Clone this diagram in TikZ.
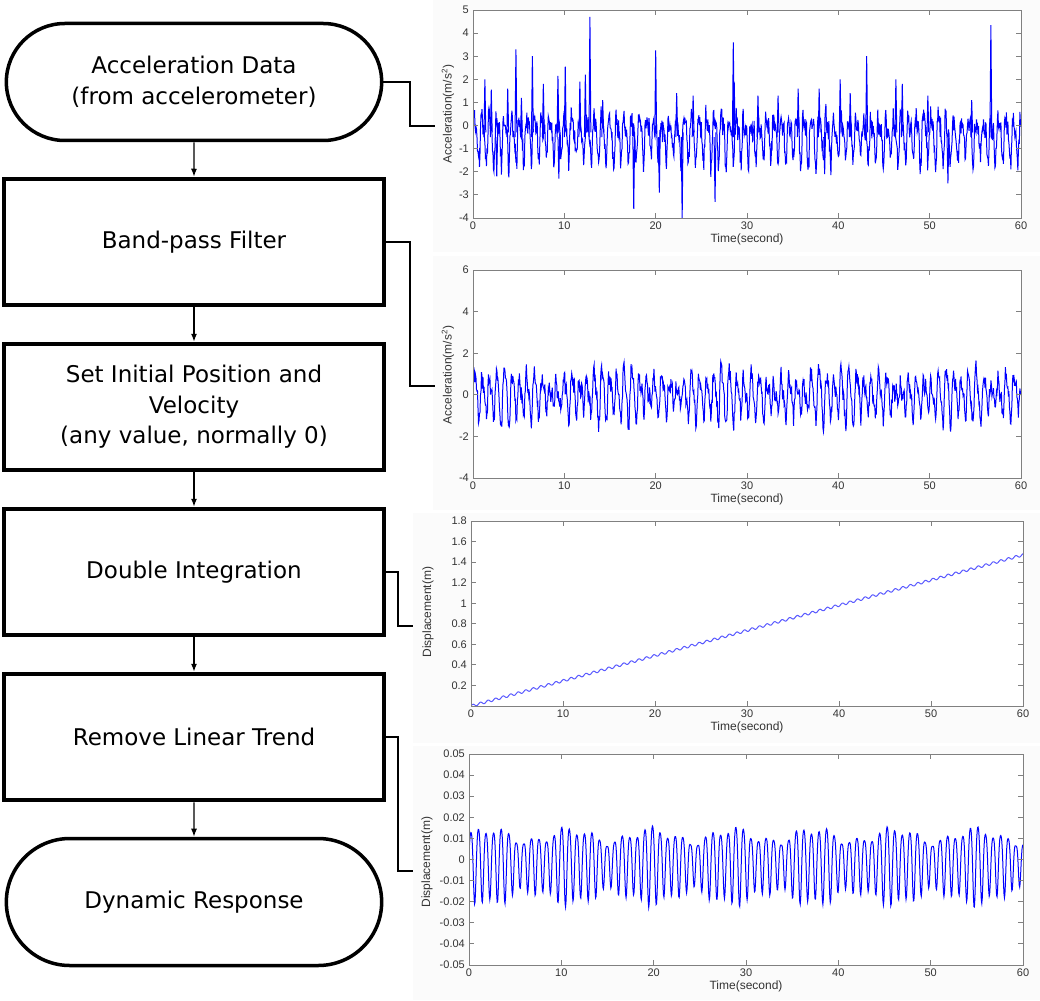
\documentclass[tikz,border=0pt]{standalone}
\usepackage{fontspec}
\setmainfont{DejaVu Sans}
\newfontfamily\plotfont{Liberation Sans}
\usepackage{tikz}
\usetikzlibrary{arrows.meta,positioning,shapes.misc}

\begin{document}
\begin{tikzpicture}[
    x=1pt, y=-1pt,
    node distance=165pt,
    >={Latex[length=8pt,width=6pt]},
    terminal/.style={
		rounded rectangle,
		draw=black,
		line width=3.5pt,
		align=center,
		minimum width=382pt,
		minimum height=117pt,
		font=\fontsize{23}{31}\selectfont,
		fill=white
	},
	process/.style={
		rectangle,
		draw=black,
		line width=4.5pt,
		align=center,
		minimum width=380pt,
		minimum height=126pt,
		font=\fontsize{23}{30.5}\selectfont,
		fill=white
	},
	flow/.style={line width=1.3pt},
	link/.style={line width=1.3pt},
	figbg/.style={fill=black!1.5},
	frame/.style={draw=black!50, line width=1pt},
	sigline/.style={draw=blue, line width=1pt},
	ticklab/.style={
	  font=\plotfont\fontsize{11}{13}\selectfont,
	  text=black!80,
	  inner sep=1pt
    },
	axlab/.style={
	  font=\plotfont\fontsize{12}{14}\selectfont,
	  text=black!80,
	  inner sep=1pt
    }
  ]

\useasboundingbox (0,0) rectangle (1040,1000);
\fill [white] (0,0) rectangle (1040,1000);
\pgfmathsetseed{4711}

% // The flow chart
 \node [terminal] (accdata) at (194,82) {Acceleration Data\\(from accelerometer)};
 \node [process, below of=accdata, yshift=5pt] (bandpass) {Band-pass Filter};
 \node [process, below of=bandpass] (initset) {Set Initial Position and\\Velocity\\(any value, normally 0)};
 \node [process, below of=initset] (dblint) {Double Integration};
 \node [process, below of=dblint] (detrend) {Remove Linear Trend};
 \node [terminal, below of=detrend, minimum height=127pt] (response) {Dynamic Response};

 \draw [flow, ->] (accdata) -- (bandpass);
 \draw [flow, ->] (bandpass) -- (initset);
 \draw [flow, ->] (initset) -- (dblint);
 \draw [flow, ->] (dblint) -- (detrend);
 \draw [flow, ->] (detrend) -- (response);

% // figure backgrounds
\fill [figbg] (433,0) rectangle (1040,252);
\fill [figbg] (433,256) rectangle (1040,510);
\fill [figbg] (413,513) rectangle (1040,743);
\fill [figbg] (413,746) rectangle (1040,1000);

% // raw acceleration
\begin{scope}[shift={(473pt,-125.56pt)}, x=9.1333pt, y=23.111pt]
  \fill [white] (0,-4) rectangle (60,5);
  \begin{scope}
    \clip (0,-4) rectangle (60,5);
    \draw [sigline] plot [domain=0:60, samples=1100]
      (\x, {-0.45+0.8*(1+0.2*sin(31*\x))*sin(360*mod(1.22*\x,1))+0.4*sin(720*mod(1.22*\x,1)+50)+0.5*rand});
    \foreach \t/\v in {1.3/2.0, 2.0/1.55, 2.6/-2.2, 3.8/1.6, 4.7/3.3, 6.5/3.0, 7.7/1.8,
                       9.3/2.15, 9.4/-2.3, 10.1/2.55, 11.7/1.9, 12.3/2.2, 12.8/4.7,
                       17.6/-3.6, 20.0/3.25, 20.4/-2.9, 22.3/1.4, 22.9/-4, 26.5/-3.3,
                       28.5/3.6, 28.6/1.9, 35.6/1.6, 37.9/1.6, 40.2/2.0, 43.1/3.0, 46.3/2.0,
                       47.0/1.8, 52.0/-2.5, 56.7/4.35, 5.3/1.2, 14.2/1.1, 24.1/1.3,
                       31.2/1.3, 33.4/1.3, 38.5/-2.1, 41.3/1.4, 49.8/1.3, 54.6/1.1}
      \draw [sigline] (\t-0.1,-0.5) -- (\t,\v) -- (\t+0.1,-0.3);
  \end{scope}
  \draw [frame] (0,-4) rectangle (60,5);
  \foreach \t in {0,10,...,60} {
    \draw [frame] (\t,-4) -- ++(0,5pt) (\t,5) -- ++(0,-5pt);
    \node [ticklab, anchor=north, yshift=-3pt] (ta\t) at (\t,-4) {\t};
  }
  \foreach \v [count=\i] in {-4,...,5} {
    \draw [frame] (0,\v) -- ++(5pt,0) (60,\v) -- ++(-5pt,0);
    \node [ticklab, anchor=east, xshift=-3pt] (va\i) at (0,\v) {\v};
  }
  \node [axlab, yshift=-21pt] (timea) at (30,-4) {Time(second)};
\end{scope}

% // filtered acceleration
\begin{scope}[shift={(473pt,-394.8pt)}, x=9.1333pt, y=20.8pt]
  \fill [white] (0,-4) rectangle (60,6);
  \begin{scope}
    \clip (0,-4) rectangle (60,6);
    \draw [sigline] plot [domain=0:60, samples=1100]
      (\x, {0.85*(1+0.3*sin(29*\x))*sin(360*mod(1.22*\x,1))+0.35*sin(720*mod(1.22*\x,1)+30)+0.3*sin(360*mod(0.93*\x,1))+0.4*rand});
  \end{scope}
  \draw [frame] (0,-4) rectangle (60,6);
  \foreach \t in {0,10,...,60} {
    \draw [frame] (\t,-4) -- ++(0,5pt) (\t,6) -- ++(0,-5pt);
    \node [ticklab, anchor=north, yshift=-3pt] (tb\t) at (\t,-4) {\t};
  }
  \foreach \v [count=\i] in {-4,-2,...,6} {
    \draw [frame] (0,\v) -- ++(5pt,0) (60,\v) -- ++(-5pt,0);
    \node [ticklab, anchor=east, xshift=-3pt] (vb\i) at (0,\v) {\v};
  }
  \node [axlab, yshift=-21pt] (timeb) at (30,-4) {Time(second)};
\end{scope}

% // displacement after integration
\begin{scope}[shift={(471pt,-706pt)}, x=9.2pt, y=102.78pt]
  \fill [white] (0,0) rectangle (60,1.8);
  \begin{scope}
    \clip (0,0) rectangle (60,1.8);
    \draw [sigline, draw=blue!65] plot [domain=0:60, samples=1000]
      (\x, {0.0245*\x+0.012*sin(360*mod(1.22*\x,1))});
  \end{scope}
  \draw [frame] (0,0) rectangle (60,1.8);
  \foreach \t in {0,10,...,60} {
    \draw [frame] (\t,0) -- ++(0,5pt) (\t,1.8) -- ++(0,-5pt);
    \node [ticklab, anchor=north, yshift=-3pt] (tc\t) at (\t,0) {\t};
  }
  \foreach \v [count=\i] in {0.2,0.4,0.6,0.8,1,1.2,1.4,1.6,1.8} {
    \draw [frame] (0,\v) -- ++(5pt,0) (60,\v) -- ++(-5pt,0);
    \node [ticklab, anchor=east, xshift=-3pt] (vc\i) at (0,\v) {\v};
  }
  \node [axlab, yshift=-21pt] (timec) at (30,0) {Time(second)};
\end{scope}

% // displacement without trend
\begin{scope}[shift={(469pt,-859.5pt)}, x=9.2333pt, y=2110pt]
  \fill [white] (0,-0.05) rectangle (60,0.05);
  \begin{scope}
    \clip (0,-0.05) rectangle (60,0.05);
    \draw [sigline] plot [domain=0:60, samples=1200]
      (\x, {(0.0145+0.003*sin(41*\x)+0.002*sin(113*\x+20))*sin(360*mod(1.22*\x,1))+0.0025*sin(720*mod(1.22*\x,1)+90)-0.001});
  \end{scope}
  \draw [frame] (0,-0.05) rectangle (60,0.05);
  \foreach \t in {0,10,...,60} {
    \draw [frame] (\t,-0.05) -- ++(0,5pt) (\t,0.05) -- ++(0,-5pt);
    \node [ticklab, anchor=north, yshift=-3pt] (td\t) at (\t,-0.05) {\t};
  }
  \foreach \v [count=\i] in {-0.05,-0.04,-0.03,-0.02,-0.01,0,0.01,0.02,0.03,0.04,0.05} {
    \draw [frame] (0,\v) -- ++(5pt,0) (60,\v) -- ++(-5pt,0);
    \node [ticklab, anchor=east, xshift=-3pt] (vd\i) at (0,\v) {\v};
  }
  \node [axlab, yshift=-21pt] (timed) at (30,-0.05) {Time(second)};
\end{scope}

% // axis labels
 \node [axlab, rotate=90] (ylab1) at (448,114) {Acceleration(m/s\textsuperscript{2})};
 \node [axlab, rotate=90] (ylab2) at (448,375) {Acceleration(m/s\textsuperscript{2})};
 \node [axlab, rotate=90] (ylab3) at (428,612) {Displacement(m)};
 \node [axlab, rotate=90] (ylab4) at (427,862) {Displacement(m)};

% // links to the plots
 \coordinate (end1) at (435,126);
 \coordinate (end2) at (435,386);
 \coordinate (end3) at (413,626);
 \coordinate (end4) at (413,871);
 \draw [link] (accdata.east) -| ([xshift=-25pt]end1) -- (end1);
 \draw [link] (bandpass.east) -| ([xshift=-25pt]end2) -- (end2);
 \draw [link] (dblint.east) -| ([xshift=-15pt]end3) -- (end3);
 \draw [link] (detrend.east) -| ([xshift=-15pt]end4) -- (end4);

\end{tikzpicture}
\end{document}
